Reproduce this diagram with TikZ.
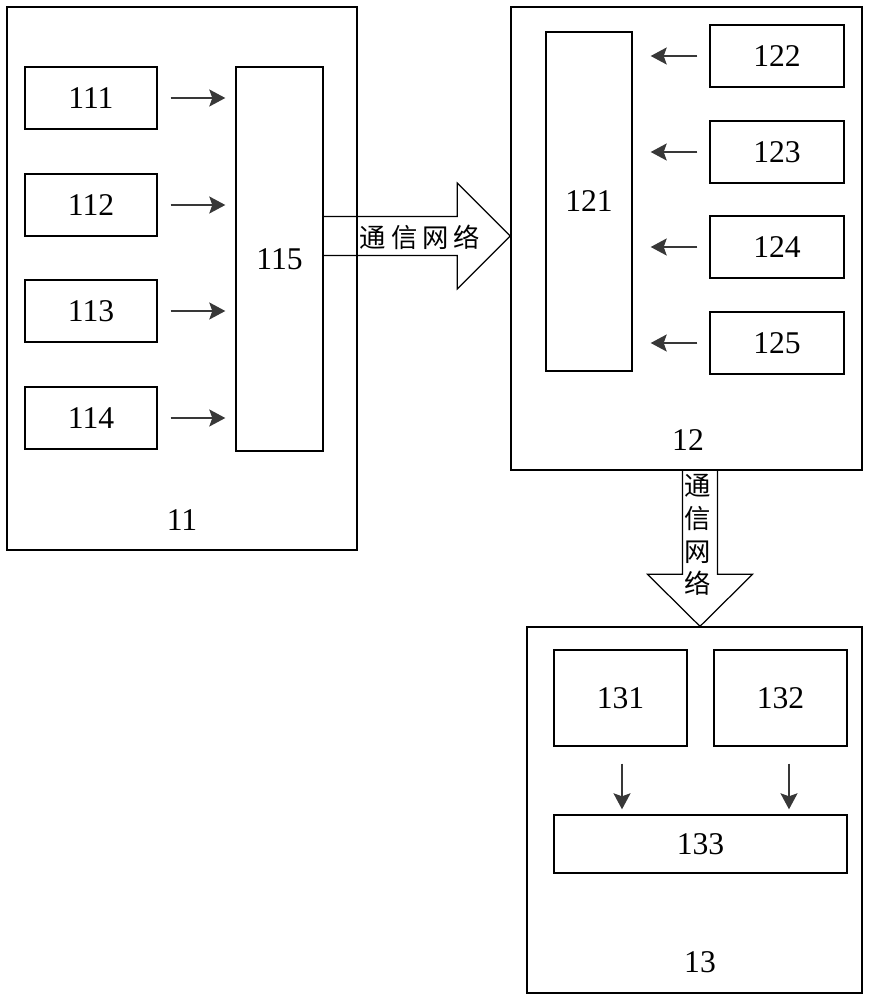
\documentclass[tikz,border=0pt]{standalone}
\usepackage{fontspec}
\setmainfont{Liberation Serif}
\newfontfamily\cjk{Noto Sans CJK SC}
\usepackage{tikz}
\usetikzlibrary{arrows.meta, calc}

\tikzset{
    blk/.style={draw, line width=0.8pt, inner sep=0pt, font=\fontsize{18}{21}\selectfont},
    arr/.style={draw=black!78, line width=1.1pt, -{Stealth[length=0.32cm, width=0.34cm, inset=0.06cm]}},
    net/.style={draw, line width=0.7pt},
    lbl/.style={font=\fontsize{18}{21}\selectfont},
    nettxt/.style={font=\cjk\fontsize{15}{18.6}\selectfont, align=center, inner sep=0pt}
}

\begin{document}
\begin{tikzpicture}[x=0.02cm, y=-0.02cm]
    \useasboundingbox (0,0) rectangle (882,1000);

    % 11
    \node[blk, minimum width=7cm, minimum height=10.86cm] (g11) at (182,278.5) {};
    \node[lbl] (l11) at (182,520) {11};
    \node[blk, minimum width=2.64cm, minimum height=1.24cm] (111) at (91,98) {111};
    \node[blk, minimum width=2.64cm, minimum height=1.24cm] (112) at (91,205) {112};
    \node[blk, minimum width=2.64cm, minimum height=1.24cm] (113) at (91,311) {113};
    \node[blk, minimum width=2.64cm, minimum height=1.24cm] (114) at (91,418) {114};
    \node[blk, minimum width=1.74cm, minimum height=7.68cm] (115) at (279.5,259) {115};

    % 12
    \node[blk, minimum width=7.02cm, minimum height=9.26cm] (g12) at (686.5,238.5) {};
    \node[lbl] (l12) at (688,440) {12};
    \node[blk, minimum width=1.72cm, minimum height=6.78cm] (121) at (589,201.5) {121};
    \node[blk, minimum width=2.68cm, minimum height=1.24cm] (122) at (777,56) {122};
    \node[blk, minimum width=2.68cm, minimum height=1.24cm] (123) at (777,152) {123};
    \node[blk, minimum width=2.68cm, minimum height=1.24cm] (124) at (777,247) {124};
    \node[blk, minimum width=2.68cm, minimum height=1.24cm] (125) at (777,343) {125};

    % 13
    \node[blk, minimum width=6.7cm, minimum height=7.32cm] (g13) at (694.5,810) {};
    \node[lbl] (l13) at (700,962) {13};
    \node[blk, minimum width=2.66cm, minimum height=1.92cm] (131) at (620.5,698) {131};
    \node[blk, minimum width=2.66cm, minimum height=1.92cm] (132) at (780.5,698) {132};
    \node[blk, minimum width=5.86cm, minimum height=1.16cm] (133) at (700.5,844) {133};

    % small arrows
    \foreach \n in {111,112,113,114}
        \draw[arr, shorten <=0.26cm, shorten >=0.2cm] (\n.east) -- (\n.east -| 115.west);
    \foreach \n in {122,123,124,125}
        \draw[arr, shorten <=0.24cm, shorten >=0.36cm] (\n.west) -- (\n.west -| 121.east);
    \draw[arr, shorten <=0.34cm, shorten >=0.1cm] ([xshift=0.03cm]131.south) -- ([xshift=0.03cm]131.south |- 133.north);
    \draw[arr, shorten <=0.34cm, shorten >=0.1cm] ([xshift=0.17cm]132.south) -- ([xshift=0.17cm]132.south |- 133.north);

    % network arrows
    \coordinate (ha) at (115.east |- 0,236);
    \coordinate (hb) at (g12.west |- 0,236);
    \draw[net] ($(ha)+(0,-19.5)$) -- ($(hb)+(-53,-19.5)$) -- ($(hb)+(-53,-53)$) -- (hb)
        -- ($(hb)+(-53,53)$) -- ($(hb)+(-53,19.5)$) -- ($(ha)+(0,19.5)$);
    \node[nettxt] (t1) at (420,237) {通\kern0.1cm 信\kern0.1cm 网\kern0.1cm 络};

    \coordinate (va) at (g12.south -| 700,0);
    \coordinate (vb) at (g13.north -| 700,0);
    \draw[net] ($(va)+(-17.5,0)$) -- ($(vb)+(-17.5,-52)$) -- ($(vb)+(-52.5,-52)$) -- (vb)
        -- ($(vb)+(52.5,-52)$) -- ($(vb)+(17.5,-52)$) -- ($(va)+(17.5,0)$);
    \node[nettxt] (t2) at (698,535) {通\\信\\网\\络};
\end{tikzpicture}
\end{document}
